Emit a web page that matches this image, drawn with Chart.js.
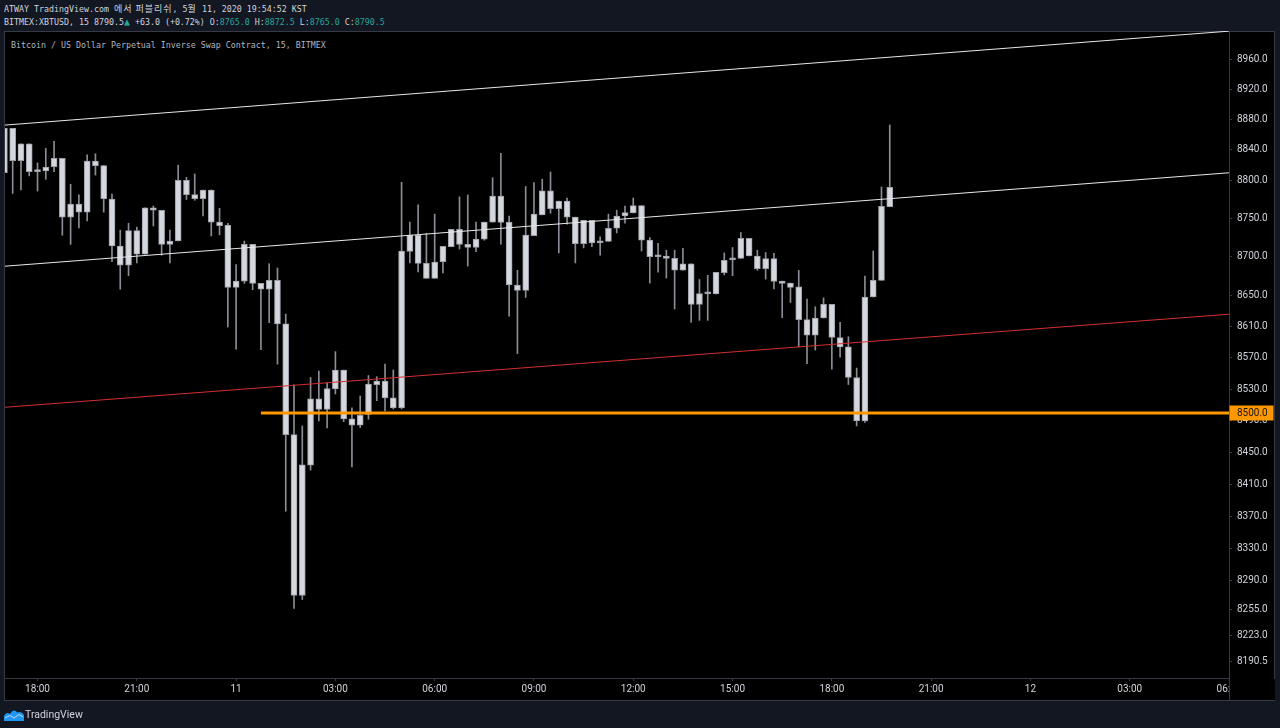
<!DOCTYPE html>
<html><head><meta charset="utf-8">
<script src="https://cdn.jsdelivr.net/npm/chart.js@4.4.1/dist/chart.umd.min.js"></script>
<style>
html,body{margin:0;padding:0;background:#131722;width:1280px;height:728px;overflow:hidden;}
#pane{position:absolute;left:4px;top:31px;width:1269px;height:668px;background:#000;border:1px solid #363a45;}
#c{position:absolute;left:0;top:0;}
.hdr{position:absolute;left:4px;font-family:"DejaVu Sans Mono",monospace;font-size:8.3px;line-height:10px;color:#d1d4dc;white-space:pre;}
.kr{font-family:"Noto Sans CJK KR";font-size:9px;letter-spacing:1px;}
.g{color:#26a69a;}
.tri{font-size:10px;color:#26a69a;}
#title{left:11px;top:40px;color:#b2b5be;}
#foot{position:absolute;left:25px;top:708px;font-family:Roboto,sans-serif;font-size:10.5px;line-height:14px;color:#d1d4dc;}
#logo{position:absolute;left:4px;top:708px;}
</style></head>
<body>
<div class="hdr" style="top:4px">ATWAY TradingView.com <span class="kr">에서 퍼블리쉬</span>, 5<span class="kr">월</span> 11, 2020 19:54:52 KST</div>
<div class="hdr" style="top:17px">BITMEX:XBTUSD, 15 8790.5<span class="tri">▲</span> +63.0 (+0.72%) O:<span class="g">8765.0</span> H:<span class="g">8872.5</span> L:<span class="g">8765.0</span> C:<span class="g">8790.5</span></div>
<div id="pane"></div>
<div class="hdr" id="title">Bitcoin / US Dollar Perpetual Inverse Swap Contract, 15, BITMEX</div>
<canvas id="c" width="1280" height="728"></canvas>
<svg id="logo" width="20" height="13" viewBox="0 0 20 13"><path d="M0 13 L0 8 Q2.5 3 6 6 Q9.5 0 13.5 4.5 Q17 2.5 20 7 L20 13 Z" fill="#2196f3"/><path d="M1 10 L6 7.5 L10 10 L15 6.5 L19 9" stroke="#b3dcfb" stroke-width="1" fill="none"/></svg>
<div id="foot">TradingView</div>
<script>
// time-axis labels every 12 bars (3 h), starting at the 18:00 bar
const timeLabels = ['18:00','21:00','11','03:00','06:00','09:00','12:00','15:00','18:00','21:00','12','03:00','06:00'];
const barsPerLabel = 12;
const firstBarOffset = -4;   // first candle (17:00) is 4 bars before the 18:00 label
const viewStart = -3.93, viewEnd = 144;

const priceTicks = [8960,8920,8880,8840,8800,8750,8700,8650,8610,8570,8530,8490,8450,8410,8370,8330,8290,8255,8223,8190.5];
const priceMin = 8171, priceMax = 8997.5;

// 15-min OHLC, 17:00 (May 10) .. 19:45 (May 11)
const opens = [
 8809.5,8868,8825.5,8847.5,8811,8812,8817.5,8828.5,8751.5,8768.5,8758,8825,
 8819,8775,8714,8689,8734,8703.5,8763.5,8760.5,8716,8720.5,8799.5,8781,
 8775.5,8787,8745,8741,8660.5,8668.5,8716,8665.5,8658,8669.5,8613.5,8472.5,
 8272,8434,8518,8504.5,8530.5,8554.5,8492.5,8484.5,8498,8536,8540.5,8519,
 8506.5,8707,8728,8691.5,8672,8693.5,8713,8735.5,8716,8712,8723,8745,
 8779,8745,8663.5,8656.5,8727.5,8754.5,8786,8762.5,8772.5,8751.5,8717,8747.5,
 8718,8720,8737,8753,8757,8766.5,8721.5,8700,8701,8698,8682.5,8691,
 8638.5,8653.5,8652,8679.5,8696,8698,8724,8701,8684.5,8697.5,8668.5,8666,
 8661,8619,8599,8621,8638.5,8596,8584,8545,8490,8648,8669.5,8765];
const highs = [
 8868,8868,8847.5,8847.5,8822.5,8841.5,8851,8828.5,8794.5,8780.5,8833,8834.5,
 8819,8781.5,8734.5,8743.5,8738.5,8763.5,8766,8760.5,8734.5,8819.5,8803.5,8808,
 8787,8787,8763,8743.5,8690,8720.5,8716,8665.5,8691,8685.5,8626,8535.5,
 8483.5,8545,8553,8538,8578,8554.5,8506.5,8521.5,8547.5,8546,8562,8554.5,
 8797,8745,8767.5,8730.5,8755.5,8713.5,8735.5,8778,8780.5,8745,8745,8803,
 8835,8753,8682.5,8791.5,8796.5,8801,8810.5,8772.5,8776.5,8751.5,8747.5,8747.5,
 8726,8755.5,8760.5,8766,8776.5,8766.5,8725,8717.5,8708.5,8708.5,8711,8691,
 8670.5,8676,8680,8705,8712,8731.5,8724,8708.5,8705.5,8704.5,8668.5,8666,
 8682.5,8645.5,8635.5,8647,8638.5,8615.5,8597,8557,8675,8707.5,8791,8872.5];
const lows = [
 8809.5,8782.5,8787,8805.5,8785.5,8801,8811,8728,8716,8737.5,8746.5,8806.5,
 8758,8693.5,8658,8675.5,8692,8703.5,8740,8702,8692,8720.5,8774.5,8773.5,
 8753,8727,8728.5,8609.5,8581,8665.5,8657.5,8580.5,8615,8562,8376.5,8256,
 8267,8428,8490,8481,8524,8489,8432,8481.5,8492,8515.5,8502.5,8505,
 8505,8692,8680.5,8672,8672,8679,8713,8710,8688,8706.5,8721.5,8745,
 8716.5,8623.5,8575.5,8647.5,8727.5,8754.5,8756.5,8705,8742.5,8692,8711.5,8713,
 8702,8720,8731,8743.5,8757,8707.5,8666,8680,8672.5,8632.5,8682.5,8615.5,
 8618,8618,8652,8676.5,8675.5,8698,8701,8682.5,8671,8658.5,8621.5,8641,
 8584,8562.5,8580,8621,8555.5,8571,8536,8483.5,8488,8648,8669.5,8765];
const closes = [
 8868,8825.5,8847.5,8811,8813,8817,8828.5,8751.5,8768.5,8758,8825,8819,
 8775.5,8714,8689,8734,8703.5,8763.5,8760.5,8716,8720.5,8799.5,8781,8775.5,
 8787,8745,8740.5,8660.5,8668.5,8716,8665.5,8658,8669.5,8613.5,8472.5,8272,
 8434.5,8518,8504.5,8531,8554.5,8492.5,8484.5,8497,8536.5,8540.5,8519,8506.5,
 8707.5,8728,8691.5,8672,8693,8713.5,8735.5,8716,8712,8723,8745,8779,
 8744.5,8663.5,8656.5,8728,8755.5,8786,8762.5,8772.5,8751.5,8717,8747.5,8718,
 8720.5,8737,8753,8757.5,8766.5,8721.5,8700,8701,8698,8682.5,8691,8638.5,
 8652.5,8652,8680,8695.5,8698,8724,8701,8684.5,8697.5,8668,8665.5,8660.5,
 8619,8599,8621,8638.5,8596,8584,8545,8490,8648,8669.5,8765.5,8790.5];

// drawn trend lines: [bar, price] endpoints
const trendLines = [
  {from:[-3.93, 8872.3], to:[144, 8997.3], color:'#e8e8ea'},
  {from:[-3.93, 8687.8], to:[144, 8809.5], color:'#e8e8ea'},
  {from:[-3.93, 8507.2], to:[144, 8625.9], color:'#d32f2f'}
];
const levelPrice = 8500, levelStartBar = 27;

const bodies = opens.map((o,k)=>({x:k+firstBarOffset, y:[o, closes[k]]}));
const wicks = highs.map((h,k)=>({x:k+firstBarOffset, y:[lows[k], h]}));

const overlay = {
  id:'overlay',
  afterDatasetsDraw(chart){
    const {ctx, chartArea:a, scales:{x,y}} = chart;
    ctx.save();
    ctx.beginPath(); ctx.rect(a.left,a.top,a.right-a.left,a.bottom-a.top); ctx.clip();
    trendLines.forEach(l=>{
      ctx.strokeStyle=l.color; ctx.lineWidth=1;
      ctx.beginPath();
      ctx.moveTo(x.getPixelForValue(l.from[0]), y.getPixelForValue(l.from[1]));
      ctx.lineTo(x.getPixelForValue(l.to[0]), y.getPixelForValue(l.to[1]));
      ctx.stroke();
    });
    const ly = y.getPixelForValue(levelPrice);
    ctx.strokeStyle='#ff9800'; ctx.lineWidth=3;
    ctx.beginPath(); ctx.moveTo(x.getPixelForValue(levelStartBar), ly); ctx.lineTo(a.right, ly); ctx.stroke();
    ctx.restore();
  },
  afterDraw(chart){
    const {ctx, chartArea:a, scales:{y}} = chart;
    ctx.save();
    ctx.fillStyle='#000';
    ctx.fillRect(a.right+1, a.bottom+1, 1275-a.right-1, 700-a.bottom-1);
    ctx.strokeStyle='#363a45'; ctx.lineWidth=1;
    ctx.beginPath(); ctx.moveTo(a.right+0.5, a.bottom); ctx.lineTo(a.right+0.5, 700); ctx.stroke();
    const ly = y.getPixelForValue(levelPrice);
    ctx.fillStyle='#ff9800';
    ctx.fillRect(a.right+0.5, Math.round(ly)-7.5, 44, 15);
    ctx.fillStyle='#131722'; ctx.font='10px Roboto'; ctx.textBaseline='middle'; ctx.textAlign='left';
    ctx.fillText(levelPrice.toFixed(1), a.right+8, Math.round(ly)+0.5);
    ctx.restore();
  }
};

new Chart(document.getElementById('c'), {
  type:'bar',
  data:{datasets:[
    {data:bodies, grouped:false, barThickness:6, minBarLength:2, backgroundColor:'#d5d7de', borderColor:'#9da0a8', borderWidth:1, borderSkipped:false, order:0},
    {data:wicks, grouped:false, barThickness:1, backgroundColor:'#8a8d95', borderWidth:0, order:1}
  ]},
  options:{
    responsive:false, animation:false, events:[],
    layout:{padding:{left:5, top:31, right:5, bottom:27}},
    plugins:{legend:{display:false}, tooltip:{enabled:false}},
    scales:{
      x:{type:'linear', min:viewStart, max:viewEnd, offset:false,
        afterBuildTicks:s=>{ s.ticks = timeLabels.map((t,k)=>({value:k*barsPerLabel})); },
        afterFit:s=>{ s.height=23; },
        ticks:{autoSkip:false, maxRotation:0, color:'#d1d4dc', font:{family:'Roboto', size:10}, padding:2,
          callback:v=>timeLabels[Math.round(v/barsPerLabel)]},
        grid:{drawOnChartArea:false, drawTicks:true, tickLength:3, color:'#363a45', offset:false},
        border:{color:'#363a45'}
      },
      y:{type:'logarithmic', position:'right', min:priceMin, max:priceMax,
        afterBuildTicks:s=>{ s.ticks = priceTicks.map(v=>({value:v})); },
        afterFit:s=>{ s.width=46; },
        ticks:{autoSkip:false, color:'#d1d4dc', font:{family:'Roboto', size:10}, padding:5,
          callback:v=>Number(v).toFixed(1)},
        grid:{drawOnChartArea:false, drawTicks:true, tickLength:3, color:'#363a45'},
        border:{color:'#363a45'}
      }
    }
  },
  plugins:[overlay]
});
</script>
</body></html>
